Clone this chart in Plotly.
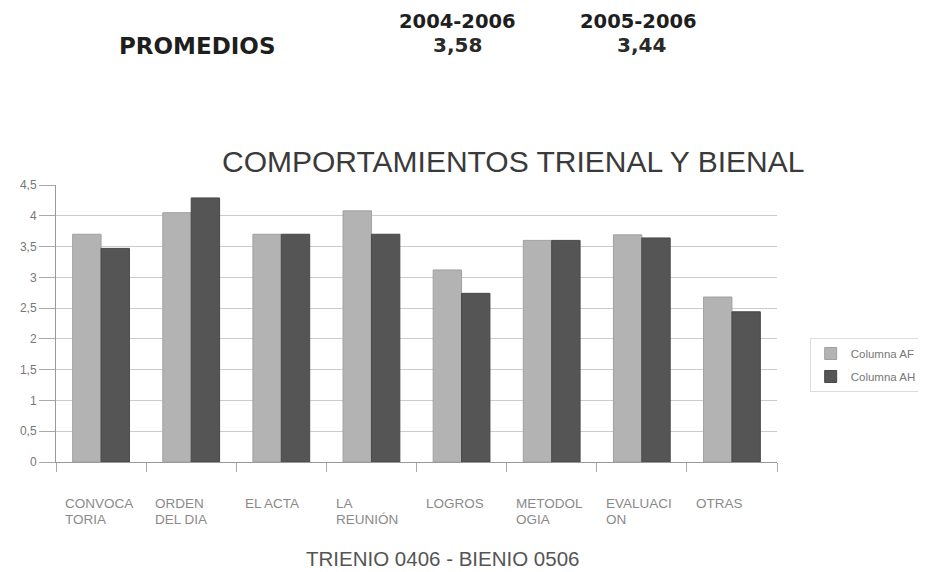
import plotly.graph_objects as go

categories = ["CONVOCATORIA", "ORDEN DEL DIA", "EL ACTA", "LA REUNIÓN", "LOGROS",
              "METODOLOGIA", "EVALUACION", "OTRAS"]
label_line1 = ["CONVOCA", "ORDEN", "EL ACTA", "LA", "LOGROS", "METODOL", "EVALUACI", "OTRAS"]
label_line2 = ["TORIA", "DEL DIA", "", "REUNIÓN", "", "OGIA", "ON", ""]
columna_af = [3.7, 4.05, 3.7, 4.08, 3.12, 3.6, 3.69, 2.68]
columna_ah = [3.47, 4.29, 3.7, 3.7, 2.74, 3.6, 3.64, 2.44]
y_ticks = [0, 0.5, 1, 1.5, 2, 2.5, 3, 3.5, 4, 4.5]
periods = ["2004-2006", "2005-2006"]
promedios = ["3,58", "3,44"]

fig = go.Figure()
fig.add_trace(go.Bar(name="Columna AF", x=categories, y=columna_af, legendgroup="af",
                     marker=dict(color="#b3b3b3", line=dict(color="#a0a0a0", width=1))))
fig.add_trace(go.Bar(name="Columna AH", x=categories, y=columna_ah, legendgroup="ah",
                     marker=dict(color="#555555", line=dict(color="#484848", width=1))))

arial = "Liberation Sans, Arial, sans-serif"
wide = "DejaVu Sans, sans-serif"

# plot area in page pixels: x 53..781, y 185..462
def px(x):
    return (x - 53) / 728.0

def py(y):
    return (462 - y) / 277.0

annotations = []
for i, (l1, l2) in enumerate(zip(label_line1, label_line2)):
    annotations.append(dict(x=i - 0.42, y=0, xref="x", yref="y", yshift=-41,
                            text=l1, showarrow=False, xanchor="left", yanchor="middle",
                            font=dict(family=arial, size=13.5, color="#8a8a8a")))
    if l2:
        annotations.append(dict(x=i - 0.42, y=0, xref="x", yref="y", yshift=-57,
                                text=l2, showarrow=False, xanchor="left", yanchor="middle",
                                font=dict(family=arial, size=13.5, color="#8a8a8a")))

year_x = [458, 641]
val_x = [458, 644]
for p, v, xp, xv in zip(periods, promedios, year_x, val_x):
    annotations.append(dict(x=px(xp), y=py(21), xref="paper", yref="paper",
                            xanchor="center", yanchor="middle", text="<b>" + p + "</b>",
                            showarrow=False, borderpad=0,
                            font=dict(family=wide, size=19.5, color="#1e1e1e")))
    annotations.append(dict(x=px(xv), y=py(45), xref="paper", yref="paper",
                            xanchor="center", yanchor="middle", text="<b>" + v + "</b>",
                            showarrow=False, font=dict(family=wide, size=20, color="#2a2a2a")))
annotations.append(dict(x=px(196), y=py(46), xref="paper", yref="paper",
                        xanchor="center", yanchor="middle", text="<b>PROMEDIOS</b>",
                        showarrow=False, font=dict(family=wide, size=23, color="#1e1e1e")))
annotations.append(dict(x=px(514), y=py(161), xref="paper", yref="paper",
                        xanchor="center", yanchor="middle", text="COMPORTAMIENTOS TRIENAL Y BIENAL",
                        showarrow=False, font=dict(family=arial, size=30, color="#3a3a3a")))
annotations.append(dict(x=px(443), y=py(558), xref="paper", yref="paper",
                        xanchor="center", yanchor="middle", text="TRIENIO 0406 - BIENIO 0506",
                        showarrow=False, font=dict(family=arial, size=20.5, color="#555555")))

fig.update_layout(
    width=926, height=572,
    margin=dict(l=45, r=153, t=177, b=118),
    paper_bgcolor="white", plot_bgcolor="white",
    separators=",.",
    barmode="group", bargap=0.37, bargroupgap=0,
    font=dict(family=arial, color="#555555"),
    showlegend=True,
    legend=dict(x=px(814), y=py(365), xanchor="left", yanchor="middle",
                bordercolor="#dddddd", borderwidth=1, traceorder="grouped",
                tracegroupgap=4, itemwidth=30,
                font=dict(family=arial, size=11.5, color="#777777")),
    annotations=annotations,
)
fig.update_xaxes(showticklabels=False, ticks="outside", tickson="boundaries", ticklen=9,
                 tickcolor="#aaaaaa", showline=True, linecolor="#999999", showgrid=False)
fig.update_yaxes(range=[0, 4.5], tickvals=y_ticks, ticks="outside", ticklen=16,
                 tickcolor="#aaaaaa", showline=True, linecolor="#999999",
                 gridcolor="#cccccc", gridwidth=1, zeroline=False,
                 tickfont=dict(size=12, color="#777777"))

fig.write_html("out.html")
